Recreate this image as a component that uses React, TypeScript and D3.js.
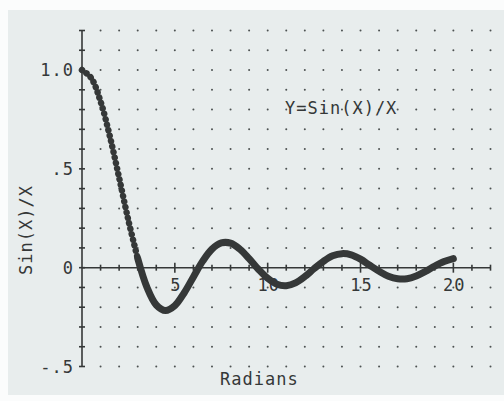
import React from "react";
import * as d3 from "d3";

// values, every half radian
const radians = [
  0, 0.5, 1, 1.5, 2, 2.5, 3, 3.5, 4, 4.5, 5, 5.5, 6, 6.5, 7, 7.5, 8, 8.5, 9, 9.5,
  10, 10.5, 11, 11.5, 12, 12.5, 13, 13.5, 14, 14.5, 15, 15.5, 16, 16.5, 17, 17.5,
  18, 18.5, 19, 19.5, 20,
];
const sincValues = [
  1.0, 0.959, 0.841, 0.665, 0.455, 0.239, 0.047, -0.1, -0.189, -0.217, -0.192,
  -0.128, -0.047, 0.033, 0.094, 0.125, 0.124, 0.094, 0.046, -0.008, -0.054,
  -0.084, -0.091, -0.077, -0.045, -0.005, 0.032, 0.06, 0.071, 0.065, 0.043,
  0.012, -0.018, -0.043, -0.056, -0.056, -0.042, -0.019, 0.008, 0.031, 0.046,
];

const xTickValues = [5, 10, 15, 20];
const xTickLabels = ["5", "10", "15", "20"];
const yTickValues = [-0.5, 0, 0.5, 1.0];
const yTickLabels = ["-.5", "0", ".5", "1.0"];
const title = "Y=Sin(X)/X";
const xTitle = "Radians";
const yTitle = "Sin(X)/X";

const W = 504;
const H = 401;
const ink = "#353838";
const font = "'DejaVu Sans Mono', monospace";

export default function App() {
  const x = d3.scaleLinear().domain([0, 22]).range([82, 490.5]);
  const y = d3.scaleLinear().domain([-0.5, 1.2]).range([366.5, 30.5]);

  const pts = radians.map((r, i) => ({ r, v: sincValues[i] }));
  const line = d3
    .line<{ r: number; v: number }>()
    .x((d) => x(d.r))
    .y((d) => y(d.v))
    .curve(d3.curveCatmullRom);

  // steep start was drawn as beads, rest as a heavy stroke
  const head = pts.filter((d) => d.r <= 3);
  const tail = pts.filter((d) => d.r >= 3);

  const gridX = d3.range(1, 23);
  const gridY = d3.range(-5, 13).filter((k) => k !== 0).map((k) => k / 10);
  const minorY = d3.range(-5, 13).map((k) => k / 10);

  return (
    <div style={{ position: "fixed", left: 0, top: 0 }}>
      <svg width={W} height={H} style={{ display: "block" }}>
        <rect x={0} y={0} width={W} height={H} fill="#fbfcfc" />
        <rect x={8} y={10} width={W - 8} height={385} fill="#e8eded" />

        {/* dotted grid */}
        <g fill="#4d5252">
          {gridX.map((gx) =>
            gridY.map((gy) => (
              <circle key={`${gx}-${gy}`} cx={x(gx)} cy={y(gy)} r={1} />
            ))
          )}
        </g>

        {/* axes */}
        <g stroke={ink} strokeWidth={1.6}>
          <line x1={x(0)} x2={x(0)} y1={y(1.2)} y2={y(-0.5)} />
          <line x1={x(0)} x2={x(22)} y1={y(0)} y2={y(0)} />
          {minorY.map((v) => (
            <line key={v} x1={x(0) - 3} x2={x(0) + 3} y1={y(v)} y2={y(v)} />
          ))}
          {gridX.map((r) => (
            <line
              key={r}
              x1={x(r)}
              x2={x(r)}
              y1={y(0) - (r % 5 === 0 ? 5 : 3)}
              y2={y(0) + (r % 5 === 0 ? 5 : 3)}
            />
          ))}
        </g>

        {/* curve */}
        <path d={line(head) || ""} fill="none" stroke={ink} strokeWidth={2.2} />
        <path
          d={line(head) || ""}
          fill="none"
          stroke={ink}
          strokeWidth={6.5}
          strokeLinecap="round"
          strokeDasharray="0.01 5.6"
        />
        <path
          d={line(tail) || ""}
          fill="none"
          stroke={ink}
          strokeWidth={7}
          strokeLinecap="round"
          strokeLinejoin="round"
        />

        {/* labels */}
        <g fill={ink} fontFamily={font} fontSize={17} letterSpacing={1}>
          {yTickValues.map((v, i) => (
            <text key={v} x={74} y={y(v)} dy="0.36em" textAnchor="end">
              {yTickLabels[i]}
            </text>
          ))}
          {xTickValues.map((v, i) => (
            <text key={v} x={x(v) + 1} y={291} textAnchor="middle">
              {xTickLabels[i]}
            </text>
          ))}
          <text x={285} y={113.5}>
            {title}
          </text>
          <text x={220} y={385}>
            {xTitle}
          </text>
          <text transform="translate(32,230) rotate(-90)" textAnchor="middle">
            {yTitle}
          </text>
        </g>
      </svg>
    </div>
  );
}
